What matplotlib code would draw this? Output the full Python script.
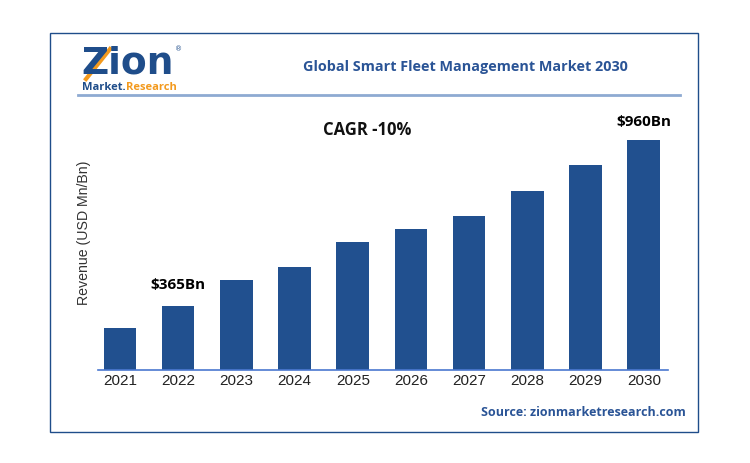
import matplotlib
matplotlib.use("Agg")
import matplotlib.pyplot as plt
from matplotlib.patches import Rectangle
from matplotlib.lines import Line2D

years = ["2021", "2022", "2023", "2024", "2025", "2026", "2027", "2028", "2029", "2030"]
revenue = [176, 267, 375, 428, 535, 588, 641, 747, 854, 960]
label_2022 = "$365Bn"
label_2030 = "$960Bn"
title = "Global Smart Fleet Management Market 2030"
cagr = "CAGR -10%"
ylabel = "Revenue (USD Mn/Bn)"
source = "Source: zionmarketresearch.com"

W, H = 750, 463
fig = plt.figure(figsize=(7.5, 4.63), dpi=100)
fig.patch.set_facecolor("white")
renderer = fig.canvas.get_renderer()

def fx(px):
    return px / W

def fy(py):
    return 1 - py / H

def right_px(t):
    bb = t.get_window_extent(renderer=renderer)
    return bb.x1

# outer frame
fig.add_artist(Rectangle((fx(50), fy(432)), fx(698) - fx(50), fy(33) - fy(432),
                         transform=fig.transFigure, fill=False, edgecolor="#1f4d8a", linewidth=1.0))
# header separator
fig.add_artist(Line2D([fx(78), fx(680)], [fy(95), fy(95)], transform=fig.transFigure,
                      color="#8eaad2", linewidth=2.0))

# logo
logo = fig.text(fx(81), fy(64), "Zion", fontsize=27, fontweight="bold", color="#1f4d8a",
                family="DejaVu Sans", va="center", ha="left")
fig.add_artist(Line2D([fx(86), fx(110)], [fy(79), fy(49)], transform=fig.transFigure,
                      color="#f39a1e", linewidth=3))
rx = right_px(logo)
fig.text((rx + 2) / W, fy(49), "®", fontsize=5, color="#1f4d8a", va="center", ha="left")
mk = fig.text(fx(82), fy(87), "Market.", fontsize=8, fontweight="bold", color="#1f4d8a",
              va="center", ha="left", family="Open Sans")
rx2 = right_px(mk)
fig.text((rx2 + 0.5) / W, fy(87), "Research", fontsize=8, fontweight="bold", color="#f39a1e",
         va="center", ha="left", family="Open Sans")

# title
fig.text(fx(465), fy(67), title, fontsize=10.4, fontweight="bold", color="#2a5496",
         family="Open Sans", ha="center", va="center")

# source
fig.text(fx(686), fy(412), source, fontsize=9, fontweight="bold", color="#2a5496",
         family="Open Sans", ha="right", va="center")

# axes
ax = fig.add_axes([fx(98), fy(370), fx(668) - fx(98), fy(100) - fy(370)])
x = list(range(len(years)))
ax.bar(x, revenue, width=0.56, color="#21508f", zorder=2)
ax.set_xlim(-0.378, 9.416)
ax.set_ylim(0, 1125.5)
ax.set_xticks(x)
ax.set_xticklabels(years, fontsize=11, color="#222222", family="Liberation Sans")
ax.tick_params(axis="x", length=0, pad=3)
ax.set_yticks([])
for s in ["top", "right", "left"]:
    ax.spines[s].set_visible(False)
ax.spines["bottom"].set_color("#4a78d0")
ax.spines["bottom"].set_linewidth(1.2)
ax.patch.set_alpha(0)

ax.annotate(label_2022, (1, revenue[1]), xytext=(0, 10), textcoords="offset points",
            ha="center", va="bottom", fontsize=11, fontweight="bold", family="Open Sans")
ax.annotate(label_2030, (9, revenue[9]), xytext=(0, 8), textcoords="offset points",
            ha="center", va="bottom", fontsize=11, fontweight="bold", family="Open Sans")

fig.text(fx(367), fy(130), cagr, fontsize=12, fontweight="bold", color="#111111",
         family="Open Sans", ha="center", va="center")

fig.text(fx(84), fy(233), ylabel, fontsize=10.2, color="#333333", rotation=90,
         ha="center", va="center", family="Liberation Sans")

fig.savefig("out.png", dpi=100, facecolor="white")
